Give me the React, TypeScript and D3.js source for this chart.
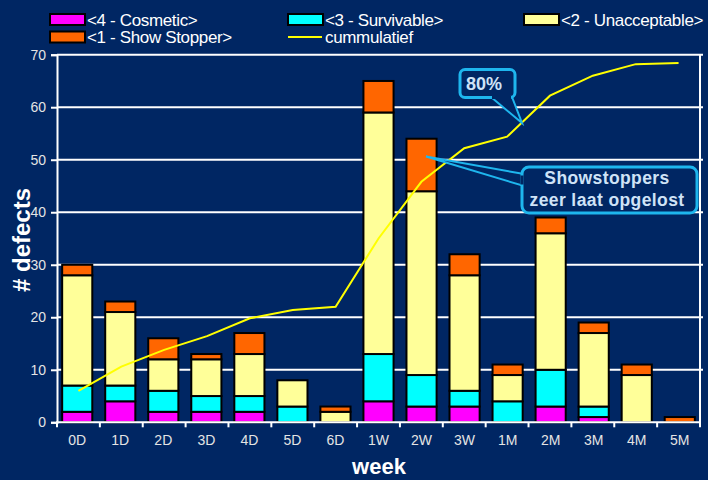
import React, { useEffect, useRef } from 'react';
import * as d3 from 'd3';

// values
const weeks = ['0D', '1D', '2D', '3D', '4D', '5D', '6D', '1W', '2W', '3W', '1M', '2M', '3M', '4M', '5M'];
const cosmetic = [2, 4, 2, 2, 2, 0, 0, 4, 3, 3, 0, 3, 1, 0, 0];
const survivable = [5, 3, 4, 3, 3, 3, 0, 9, 6, 3, 4, 7, 2, 0, 0];
const unacceptable = [21, 14, 6, 7, 8, 5, 2, 46, 35, 22, 5, 26, 14, 9, 0];
const showStopper = [2, 2, 4, 1, 4, 0, 1, 6, 10, 4, 2, 3, 2, 2, 1];
const cummulatief = [6, 10.6, 13.8, 16.4, 19.8, 21.4, 22, 35, 45.8, 52.2, 54.4, 62.2, 66, 68.2, 68.4];
const yTicks = [0, 10, 20, 30, 40, 50, 60, 70];

const seriesKeys = ['cosmetic', 'survivable', 'unacceptable', 'showStopper'];
const seriesNames = ['<4 - Cosmetic>', '<3 - Survivable>', '<2 - Unacceptable>', '<1 - Show Stopper>'];
const seriesColors = ['#FF00FF', '#00FFFF', '#FFFF99', '#FF6600'];

const BG = '#002663';
const CALLOUT = '#1EB6EE';
const CALLOUT_TEXT = '#CFE3F7';

function App() {
  const chartRef = useRef<HTMLDivElement>(null);

  useEffect(() => {
    d3.select(chartRef.current).selectAll('*').remove();

    const W = 708;
    const H = 480;
    const left = 57, right = 700, top = 54.7, bottom = 422.3;

    const svg = d3
      .select(chartRef.current)
      .append('svg')
      .attr('width', W)
      .attr('height', H)
      .style('display', 'block')
      .style('font-family', '"Liberation Sans", Arial, sans-serif');

    svg.append('rect').attr('width', W).attr('height', H).attr('fill', BG);

    const table = weeks.map((w, i) => ({
      week: w,
      cosmetic: cosmetic[i],
      survivable: survivable[i],
      unacceptable: unacceptable[i],
      showStopper: showStopper[i],
    }));

    const x = d3.scaleBand().domain(weeks).range([left, right]).paddingInner(0.3).paddingOuter(0.12);
    const xBand = d3.scaleBand().domain(weeks).range([left, right]);
    const y = d3.scaleLinear().domain([0, 70]).range([bottom, top]);

    // gridlines
    svg
      .append('g')
      .selectAll('line')
      .data(yTicks.filter((t) => t > 0))
      .enter()
      .append('line')
      .attr('x1', left)
      .attr('x2', right + 3)
      .attr('y1', (d) => y(d))
      .attr('y2', (d) => y(d))
      .attr('stroke', '#FFFFFF')
      .attr('stroke-width', 2);

    // right border
    svg
      .append('line')
      .attr('x1', right)
      .attr('x2', right)
      .attr('y1', top)
      .attr('y2', bottom)
      .attr('stroke', '#FFFFFF')
      .attr('stroke-width', 2);

    // stacked bars
    const stacked = d3.stack<any>().keys(seriesKeys)(table);
    svg
      .append('g')
      .selectAll('g')
      .data(stacked)
      .enter()
      .append('g')
      .attr('fill', (d, i) => seriesColors[i])
      .selectAll('rect')
      .data((d) => d.filter((s) => s[1] - s[0] > 0))
      .enter()
      .append('rect')
      .attr('x', (d) => x(d.data.week) as number)
      .attr('y', (d) => y(d[1]))
      .attr('width', x.bandwidth())
      .attr('height', (d) => y(d[0]) - y(d[1]))
      .attr('stroke', '#000000')
      .attr('stroke-width', 2);

    // axes
    const yAxis = svg
      .append('g')
      .attr('transform', `translate(${left},0)`)
      .call(d3.axisLeft(y).tickValues(yTicks).tickSize(6).tickPadding(5));
    yAxis.selectAll('line').attr('stroke', '#FFFFFF').attr('stroke-width', 2);
    yAxis.select('.domain').attr('stroke', '#FFFFFF').attr('stroke-width', 2);
    yAxis
      .selectAll('text')
      .attr('fill', '#E4E4E4')
      .style('font-size', '14px')
      .style('font-family', '"Liberation Sans", Arial, sans-serif');

    const xAxis = svg
      .append('g')
      .attr('transform', `translate(0,${bottom})`)
      .call(d3.axisBottom(x).tickSize(0).tickPadding(13));
    xAxis.select('.domain').remove();
    xAxis
      .selectAll('text')
      .attr('fill', '#E4E4E4')
      .style('font-size', '14px')
      .style('font-family', '"Liberation Sans", Arial, sans-serif');

    svg
      .append('line')
      .attr('x1', left - 1)
      .attr('x2', right + 1)
      .attr('y1', bottom)
      .attr('y2', bottom)
      .attr('stroke', '#FFFFFF')
      .attr('stroke-width', 2);
    svg
      .append('g')
      .selectAll('line')
      .data(weeks.concat(['end']))
      .enter()
      .append('line')
      .attr('x1', (d, i) => left + i * xBand.step())
      .attr('x2', (d, i) => left + i * xBand.step())
      .attr('y1', bottom)
      .attr('y2', bottom + 5)
      .attr('stroke', '#FFFFFF')
      .attr('stroke-width', 2);

    // cumulative line
    const line = d3
      .line<number>()
      .x((d, i) => (xBand(weeks[i]) as number) + xBand.bandwidth() / 2)
      .y((d) => y(d));
    svg
      .append('path')
      .datum(cummulatief)
      .attr('d', line)
      .attr('fill', 'none')
      .attr('stroke', '#FFFF00')
      .attr('stroke-width', 2);

    // axis titles
    svg
      .append('text')
      .attr('transform', 'translate(30,240) rotate(-90)')
      .attr('text-anchor', 'middle')
      .attr('fill', '#FFFFFF')
      .style('font-size', '24px')
      .style('font-weight', 'bold')
      .text('# defects');
    svg
      .append('text')
      .attr('x', 379)
      .attr('y', 474)
      .attr('text-anchor', 'middle')
      .attr('fill', '#FFFFFF')
      .style('font-size', '22px')
      .style('font-weight', 'bold')
      .text('week');

    // legend
    const legendItems = [
      { name: seriesNames[0], color: seriesColors[0], x: 50, y: 14, type: 'box' },
      { name: seriesNames[1], color: seriesColors[1], x: 288, y: 14, type: 'box' },
      { name: seriesNames[2], color: seriesColors[2], x: 524, y: 14, type: 'box' },
      { name: seriesNames[3], color: seriesColors[3], x: 50, y: 31.5, type: 'box' },
      { name: 'cummulatief', color: '#FFFF00', x: 288, y: 31.5, type: 'line' },
    ];
    const lg = svg.append('g');
    legendItems.forEach((d) => {
      if (d.type === 'box') {
        lg.append('rect')
          .attr('x', d.x)
          .attr('y', d.y)
          .attr('width', 35)
          .attr('height', 11)
          .attr('fill', d.color)
          .attr('stroke', '#000000')
          .attr('stroke-width', 2);
      } else {
        lg.append('line')
          .attr('x1', d.x)
          .attr('x2', d.x + 34)
          .attr('y1', d.y + 5.5)
          .attr('y2', d.y + 5.5)
          .attr('stroke', d.color)
          .attr('stroke-width', 2);
      }
      lg.append('text')
        .attr('x', d.x + 37)
        .attr('y', d.y + 11.5)
        .attr('fill', '#FFFFFF')
        .style('font-size', '17px')
        .style('letter-spacing', '-0.35px')
        .text(d.name);
    });

    // callout "80%"
    const c1 = svg.append('g');
    c1.append('path')
      .attr('d', 'M491,97 L522,123 L512,97 Z')
      .attr('fill', BG)
      .attr('stroke', CALLOUT)
      .attr('stroke-width', 2);
    c1.append('rect')
      .attr('x', 460)
      .attr('y', 69.5)
      .attr('width', 55)
      .attr('height', 28)
      .attr('rx', 5)
      .attr('fill', BG)
      .attr('stroke', CALLOUT)
      .attr('stroke-width', 3);
    c1.append('line')
      .attr('x1', 492)
      .attr('x2', 511)
      .attr('y1', 97.5)
      .attr('y2', 97.5)
      .attr('stroke', BG)
      .attr('stroke-width', 3);
    c1.append('text')
      .attr('x', 484)
      .attr('y', 90)
      .attr('text-anchor', 'middle')
      .attr('fill', CALLOUT_TEXT)
      .style('font-size', '18px')
      .style('font-weight', 'bold')
      .text('80%');

    // callout "Showstoppers zeer laat opgelost"
    const c2 = svg.append('g');
    c2.append('path')
      .attr('d', 'M524,174 L426,156.5 L524,186 Z')
      .attr('fill', BG)
      .attr('stroke', CALLOUT)
      .attr('stroke-width', 2);
    c2.append('rect')
      .attr('x', 522)
      .attr('y', 167)
      .attr('width', 175)
      .attr('height', 46)
      .attr('rx', 7)
      .attr('fill', BG)
      .attr('stroke', CALLOUT)
      .attr('stroke-width', 3);
    c2.append('line')
      .attr('x1', 522)
      .attr('x2', 522)
      .attr('y1', 175.5)
      .attr('y2', 184.5)
      .attr('stroke', BG)
      .attr('stroke-width', 3);
    c2.append('text')
      .attr('x', 607)
      .attr('y', 184)
      .attr('text-anchor', 'middle')
      .attr('fill', CALLOUT_TEXT)
      .style('font-size', '17.5px')
      .style('font-weight', 'bold')
      .style('letter-spacing', '0.4px')
      .text('Showstoppers');
    c2.append('text')
      .attr('x', 607)
      .attr('y', 206)
      .attr('text-anchor', 'middle')
      .attr('fill', CALLOUT_TEXT)
      .style('font-size', '17.5px')
      .style('font-weight', 'bold')
      .style('letter-spacing', '0.4px')
      .text('zeer laat opgelost');
  }, []);

  return <div ref={chartRef} style={{ position: 'absolute', left: 0, top: 0 }}></div>;
}

export default App;
